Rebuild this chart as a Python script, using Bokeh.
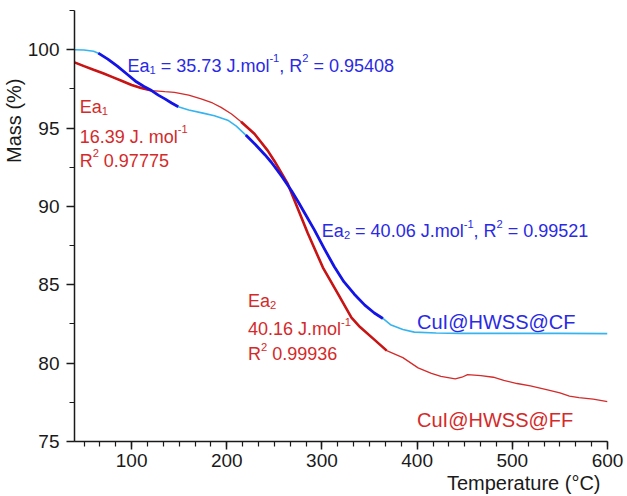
from bokeh.plotting import figure
from bokeh.models import Range1d, SingleIntervalTicker, Label, Title
from bokeh.embed import file_html
from bokeh.resources import INLINE

# ---------------- data ----------------
cf_temp = [40, 50, 60, 67, 75, 85, 95, 105, 113, 121, 128, 135, 142, 149, 160, 175, 187,
           201, 210, 220, 230, 240, 247, 258, 268, 275, 283, 292, 302, 313, 323, 334, 345,
           355, 364, 372, 385, 397, 420, 446, 500, 550, 600]
cf_mass = [100.0, 99.98, 99.9, 99.73, 99.4, 98.95, 98.45, 97.95, 97.65, 97.39, 97.1, 96.86,
           96.6, 96.36, 96.15, 95.95, 95.79, 95.5, 95.12, 94.55, 93.95, 93.3, 92.8, 91.9, 91.0,
           90.3, 89.45, 88.5, 87.35, 86.15, 85.2, 84.4, 83.7, 83.2, 82.85, 82.45, 82.15, 81.98,
           81.92, 81.9, 81.9, 81.9, 81.88]

cf_fit1_temp = [65, 75, 85, 95, 105, 113, 121, 128, 135, 142, 149]
cf_fit1_mass = [99.78, 99.4, 98.95, 98.45, 97.95, 97.65, 97.39, 97.1, 96.86, 96.6, 96.36]
cf_fit2_temp = [220, 230, 240, 247, 258, 268, 275, 283, 292, 302, 313, 323, 334, 345, 355, 364]
cf_fit2_mass = [94.55, 93.95, 93.3, 92.8, 91.9, 91.0, 90.3, 89.45, 88.5, 87.35, 86.15, 85.2,
                84.4, 83.7, 83.2, 82.85]

ff_temp = [40, 50, 60, 70, 80, 90, 100, 110, 121, 135, 145, 160, 173, 185, 194, 205, 215, 229,
           243, 250, 264, 275, 285, 301, 317, 331, 340, 355, 368, 385, 401, 415, 425, 440, 447,
           453, 467, 480, 491, 505, 519, 537, 550, 560, 570, 585, 600]
ff_mass = [99.19, 98.95, 98.72, 98.5, 98.25, 98.0, 97.75, 97.55, 97.39, 97.32, 97.28, 97.1,
           96.86, 96.6, 96.32, 95.9, 95.4, 94.64, 93.56, 92.9, 91.45, 89.8, 88.3, 86.1, 84.4,
           82.9, 82.3, 81.5, 80.8, 80.35, 79.7, 79.35, 79.15, 79.0, 79.1, 79.27, 79.2, 79.1,
           78.9, 78.7, 78.55, 78.3, 78.1, 77.9, 77.8, 77.7, 77.55]

ff_fit1_temp = [40, 50, 60, 70, 80, 90, 100, 110, 121]
ff_fit1_mass = [99.19, 98.95, 98.72, 98.5, 98.25, 98.0, 97.75, 97.55, 97.39]
ff_fit2_temp = [215, 229, 243, 250, 264, 275, 285, 301, 317, 331, 340, 355, 368]
ff_fit2_mass = [95.4, 94.64, 93.56, 92.9, 91.45, 89.8, 88.3, 86.1, 84.4, 82.9, 82.3, 81.5, 80.8]

x_ticks_interval = 100
y_ticks_interval = 5

# ---------------- style ----------------
FONT = "Liberation Sans"
LIGHT_BLUE = "#35b4f0"
DARK_BLUE = "#1414e6"
RED_THIN = "#d42a2a"
RED_THICK = "#c81414"
BLUE_TEXT = "#2a2ae6"
RED_TEXT = "#d42a2a"
AXIS_COL = "#1a1a1a"

p = figure(width=627, height=496, output_backend="svg", toolbar_location=None,
           x_range=Range1d(40, 600), y_range=Range1d(75, 102.5),
           min_border_left=73, min_border_right=20, min_border_top=10, min_border_bottom=55)
p.outline_line_color = None
p.xgrid.visible = False
p.ygrid.visible = False
p.background_fill_color = "white"
p.border_fill_color = "white"

p.xaxis.ticker = SingleIntervalTicker(interval=x_ticks_interval, num_minor_ticks=6)
p.yaxis.ticker = SingleIntervalTicker(interval=y_ticks_interval, num_minor_ticks=2)
for ax in (p.xaxis[0], p.yaxis[0]):
    ax.axis_line_color = AXIS_COL
    ax.axis_line_width = 1.5
    ax.major_tick_line_color = AXIS_COL
    ax.minor_tick_line_color = AXIS_COL
    ax.major_tick_line_width = 1.5
    ax.minor_tick_line_width = 1.2
    ax.major_tick_in = 0
    ax.minor_tick_in = 0
    ax.major_tick_out = 8
    ax.minor_tick_out = 5
    ax.major_label_text_font = FONT
    ax.major_label_text_font_size = "19px"
    ax.major_label_text_color = AXIS_COL
p.xaxis.major_label_standoff = 4
p.yaxis.major_label_standoff = 7

# axis titles as side titles (positioned like the reference)
p.add_layout(Title(text="Temperature (°C)", align="right", offset=7, standoff=0,
                   text_font=FONT, text_font_size="20px", text_font_style="normal",
                   text_color=AXIS_COL), "below")
p.add_layout(Title(text="Mass (%)", align="right", offset=68, standoff=0,
                   text_font=FONT, text_font_size="20px", text_font_style="normal",
                   text_color=AXIS_COL), "left")

# ---------------- curves ----------------
p.line(cf_temp, cf_mass, line_color=LIGHT_BLUE, line_width=1.6)
p.line(ff_temp, ff_mass, line_color=RED_THIN, line_width=1.3)
p.line(ff_fit1_temp, ff_fit1_mass, line_color=RED_THICK, line_width=2.6)
p.line(ff_fit2_temp, ff_fit2_mass, line_color=RED_THICK, line_width=2.6)
p.line(cf_fit1_temp, cf_fit1_mass, line_color=DARK_BLUE, line_width=2.8)
p.line(cf_fit2_temp, cf_fit2_mass, line_color=DARK_BLUE, line_width=2.8)

# ---------------- rich text helper (sub/superscripts) ----------------
W = {'0': 556, '1': 556, '2': 556, '3': 556, '4': 556, '5': 556, '6': 556, '7': 556, '8': 556,
     '9': 556, '.': 278, ',': 278, ' ': 278, '=': 584, '-': 333, 'E': 667, 'a': 556, 'J': 500,
     'm': 833, 'o': 556, 'l': 222, 'R': 722, 'C': 722, 'u': 556, 'I': 278, '@': 1015, 'H': 722,
     'W': 944, 'S': 667, 'F': 611, 'T': 611, 'e': 556, 'p': 556, 'r': 333, 't': 278, '(': 333,
     ')': 333, 'M': 833, 's': 500, '%': 889}


def width(txt, fs):
    return sum(W.get(c, 556) for c in txt) * fs / 1000.0


def rich(x, y, pieces, size, color):
    off = 0.0
    for txt, kind in pieces:
        fs = size if kind == "n" else size * 0.62
        lead = len(txt) - len(txt.lstrip(" "))
        shown = txt.strip(" ")
        yo = 0.0
        if kind == "sub":
            yo = -0.22 * size
        elif kind == "sup":
            yo = 0.40 * size
        if shown:
            p.add_layout(Label(x=x, y=y, x_offset=off + width(" " * lead, fs), y_offset=yo,
                               text=shown, text_font=FONT, text_font_size=f"{fs:.1f}px",
                               text_color=color, text_align="left",
                               text_baseline="alphabetic"))
        off += width(txt, fs)


n, sb, sp = "n", "sub", "sup"
rich(95.8, 98.98, [("Ea", n), ("1", sb), (" = 35.73 J.mol", n), ("-1", sp), (", R", n),
                   ("2", sp), (" = 0.95408", n)], 18, BLUE_TEXT)
rich(45.4, 96.36, [("Ea", n), ("1", sb)], 18, RED_TEXT)
rich(45.4, 94.45, [("16.39 J. mol", n), ("-1", sp)], 18, RED_TEXT)
rich(45.4, 92.92, [("R", n), ("2", sp), (" 0.97775", n)], 18, RED_TEXT)

rich(299.9, 88.41, [("Ea", n), ("2", sb), (" = 40.06 J.mol", n), ("-1", sp), (", R", n),
                    ("2", sp), (" = 0.99521", n)], 18, BLUE_TEXT)
rich(222.3, 83.99, [("Ea", n), ("2", sb)], 18, RED_TEXT)
rich(222.3, 82.19, [("40.16 J.mol", n), ("-1", sp)], 18, RED_TEXT)
rich(222.3, 80.59, [("R", n), ("2", sp), (" 0.99936", n)], 18, RED_TEXT)

rich(399.9, 82.61, [("CuI@HWSS@CF", n)], 20, BLUE_TEXT)
rich(399.9, 76.34, [("CuI@HWSS@FF", n)], 20, RED_TEXT)

open("out.html", "w").write(file_html(p, INLINE))
